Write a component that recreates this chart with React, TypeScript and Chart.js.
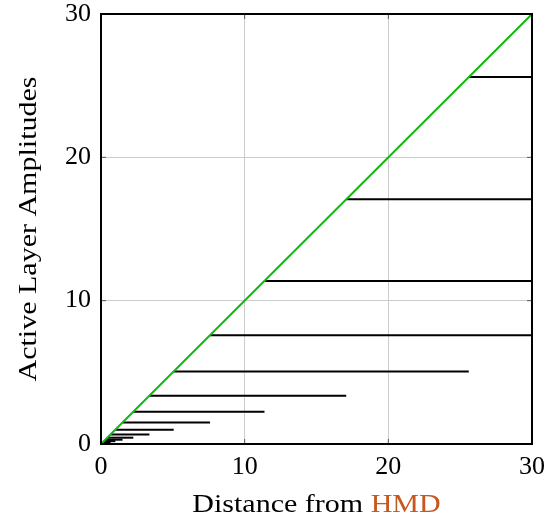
import React, { useEffect, useRef } from "react";
import { Chart, registerables } from "chart.js";

Chart.register(...registerables);

// Amplitude levels (y) of each active layer
const amplitudes = [25.6, 17.07, 11.38, 7.59, 5.06, 3.37, 2.25, 1.5, 1.0, 0.67, 0.44, 0.3, 0.2, 0.13, 0.09];
// Where each horizontal segment ends on the x axis
const segmentEnds = [30, 30, 30, 30, 25.6, 17.07, 11.38, 7.59, 5.06, 3.37, 2.25, 1.5, 1.0, 0.67, 0.44];
// Diagonal reference line
const diagonalX = [0, 30];
const diagonalY = [0, 30];
const tickValues = [0, 10, 20, 30];

const FONT = "'Liberation Serif', 'DejaVu Serif', serif";

export default function App() {
  const ref = useRef<HTMLCanvasElement | null>(null);

  useEffect(() => {
    const canvas = ref.current;
    if (!canvas) return;

    const datasets: any[] = amplitudes.map((a, i) => ({
      data: [
        { x: a, y: a },
        { x: segmentEnds[i], y: a },
      ],
      showLine: true,
      borderColor: "#000000",
      borderWidth: 2,
      pointRadius: 0,
      order: 2,
    }));
    datasets.push({
      data: diagonalX.map((x, i) => ({ x, y: diagonalY[i] })),
      showLine: true,
      borderColor: "#12b812",
      borderWidth: 2,
      pointRadius: 0,
      order: 1,
    });

    const drawStretched = (ctx: any, text: string, x: number, y: number, sx: number) => {
      ctx.save();
      ctx.translate(x, y);
      ctx.scale(sx, 1);
      ctx.fillText(text, 0, 0);
      ctx.restore();
    };

    const framePlugin = {
      id: "frame",
      afterDraw(chart: any) {
        const { ctx, chartArea: ca, scales } = chart;
        ctx.save();
        // inward ticks
        ctx.strokeStyle = "#555";
        ctx.lineWidth = 1;
        for (const v of tickValues) {
          const x = scales.x.getPixelForValue(v);
          const y = scales.y.getPixelForValue(v);
          ctx.beginPath();
          ctx.moveTo(x, ca.bottom);
          ctx.lineTo(x, ca.bottom - 5);
          ctx.moveTo(x, ca.top);
          ctx.lineTo(x, ca.top + 5);
          ctx.moveTo(ca.left, y);
          ctx.lineTo(ca.left + 5, y);
          ctx.moveTo(ca.right, y);
          ctx.lineTo(ca.right - 5, y);
          ctx.stroke();
        }
        // frame
        ctx.strokeStyle = "#000";
        ctx.lineWidth = 2;
        ctx.strokeRect(ca.left, ca.top, ca.right - ca.left, ca.bottom - ca.top);
        // axis titles
        const sx = 1.2;
        ctx.font = `25px ${FONT}`;
        ctx.textBaseline = "alphabetic";
        ctx.textAlign = "left";
        const part1 = "Distance from ";
        const part2 = "HMD";
        const w1 = ctx.measureText(part1).width * sx;
        const w2 = ctx.measureText(part2).width * sx;
        const cx = (ca.left + ca.right) / 2;
        const startX = cx - (w1 + w2) / 2;
        ctx.fillStyle = "#000";
        drawStretched(ctx, part1, startX, 512, sx);
        ctx.fillStyle = "#c8561e";
        drawStretched(ctx, part2, startX + w1, 512, sx);

        const yt = "Active Layer Amplitudes";
        const wy = ctx.measureText(yt).width * sx;
        ctx.translate(36, (ca.top + ca.bottom) / 2);
        ctx.rotate(-Math.PI / 2);
        ctx.fillStyle = "#000";
        drawStretched(ctx, yt, -wy / 2, 0, sx);
        ctx.restore();
      },
    };

    const chart = new Chart(canvas, {
      type: "scatter",
      data: { datasets },
      options: {
        animation: false,
        responsive: false,
        layout: { padding: { top: 14, right: 15, left: 0, bottom: 0 } },
        plugins: { legend: { display: false }, tooltip: { enabled: false } },
        scales: {
          x: {
            type: "linear",
            min: 0,
            max: 30,
            afterBuildTicks: (s: any) => {
              s.ticks = tickValues.map((v) => ({ value: v }));
            },
            afterFit: (s: any) => {
              s.height = 78;
              s.paddingLeft = 0;
              s.paddingRight = 0;
            },
            grid: { color: "#cccccc", lineWidth: 1, drawTicks: false },
            border: { display: false },
            ticks: { color: "#000", font: { family: FONT, size: 26 }, padding: 8, maxRotation: 0 },
          },
          y: {
            type: "linear",
            min: 0,
            max: 30,
            afterBuildTicks: (s: any) => {
              s.ticks = tickValues.map((v) => ({ value: v }));
            },
            afterFit: (s: any) => {
              s.width = 101;
              s.paddingTop = 0;
              s.paddingBottom = 0;
            },
            grid: { color: "#cccccc", lineWidth: 1, drawTicks: false },
            border: { display: false },
            ticks: { color: "#000", font: { family: FONT, size: 26 }, padding: 10 },
          },
        },
      },
      plugins: [framePlugin],
    } as any);

    return () => chart.destroy();
  }, []);

  return (
    <div style={{ position: "fixed", left: 0, top: 0, width: 547, height: 522, background: "#fff" }}>
      <canvas ref={ref} width={547} height={522} style={{ width: 547, height: 522 }} />
    </div>
  );
}
